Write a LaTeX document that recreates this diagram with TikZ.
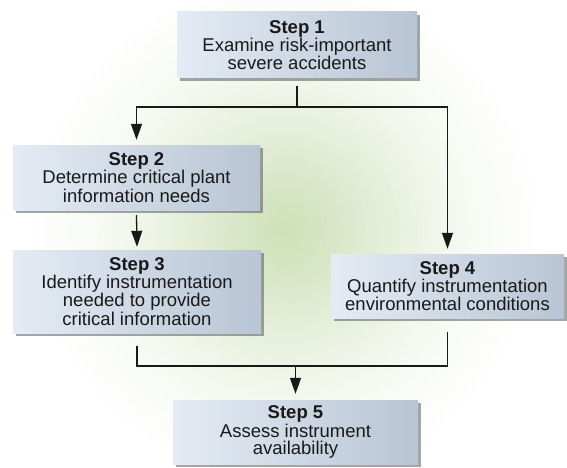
\documentclass[tikz,border=0pt]{standalone}
\usepackage{fontspec}
\setmainfont{Liberation Sans}
\usetikzlibrary{shadows,arrows.meta}
\definecolor{glowc}{RGB}{206,224,184}
\definecolor{boxl}{RGB}{228,235,244}
\definecolor{boxr}{RGB}{184,197,212}
\definecolor{ink}{RGB}{25,25,25}
\pgfdeclareradialshading{glow}{\pgfpoint{0bp}{0bp}}{color(0bp)=(glowc); color(3bp)=(glowc!80!white); color(6bp)=(glowc!55!white); color(9bp)=(glowc!32!white); color(12bp)=(glowc!14!white); color(16bp)=(white); color(50bp)=(white)}
\tikzset{
  stepbox/.style={rectangle, left color=boxl, right color=boxr, draw=none,
    align=center, inner sep=2pt, text=ink, font=\fontsize{18.5}{17}\selectfont,
    drop shadow={shadow xshift=2.5pt, shadow yshift=-3pt, opacity=0.5, fill=black!70}},
  conn/.style={line width=1.3pt, ink},
  arr/.style={conn, -{Triangle[length=16pt,width=11pt]}}
}
\begin{document}
\begin{tikzpicture}[x=1pt,y=-1pt]
\useasboundingbox (0,0) rectangle (567,468);
\fill[white] (0,0) rectangle (567,468);
\begin{scope}
\clip (0,0) rectangle (567,468);
\fill[shading=glow] (-115,-170) rectangle (685,630);
\end{scope}
\node[stepbox, minimum width=240pt, minimum height=66pt] (s1) at (297,45) {\textbf{Step 1}\\Examine risk-important\\severe accidents};
\node[stepbox, minimum width=247pt, minimum height=65pt] (s2) at (136.5,177.5) {\textbf{Step 2}\\Determine critical plant\\information needs};
\node[stepbox, minimum width=248pt, minimum height=83pt] (s3) at (137,291.5) {\textbf{Step 3}\\Identify instrumentation\\needed to provide\\critical information};
\node[stepbox, minimum width=233pt, minimum height=64pt] (s4) at (447.5,286) {\textbf{Step 4}\\Quantify instrumentation\\environmental conditions};
\node[stepbox, minimum width=245pt, minimum height=64pt] (s5) at (295.5,432) {\textbf{Step 5}\\Assess instrument\\availability};
\coordinate (top) at (297,107);
\coordinate (bot) at (295.5,366);
\draw[conn] ([yshift=-8pt]s1.south) -- (top);
\draw[arr] (top) -| ([yshift=5pt]s2.north);
\draw[arr] (top) -| ([yshift=5pt]s4.north);
\draw[arr] ([yshift=-5pt]s2.south) -- ([yshift=3pt]s3.north);
\draw[conn] ([yshift=-13pt]s3.south) -- (s3.south |- bot) -| ([yshift=-14pt]s4.south);
\draw[arr] (bot) -- ([yshift=6pt]s5.north);
\end{tikzpicture}
\end{document}
